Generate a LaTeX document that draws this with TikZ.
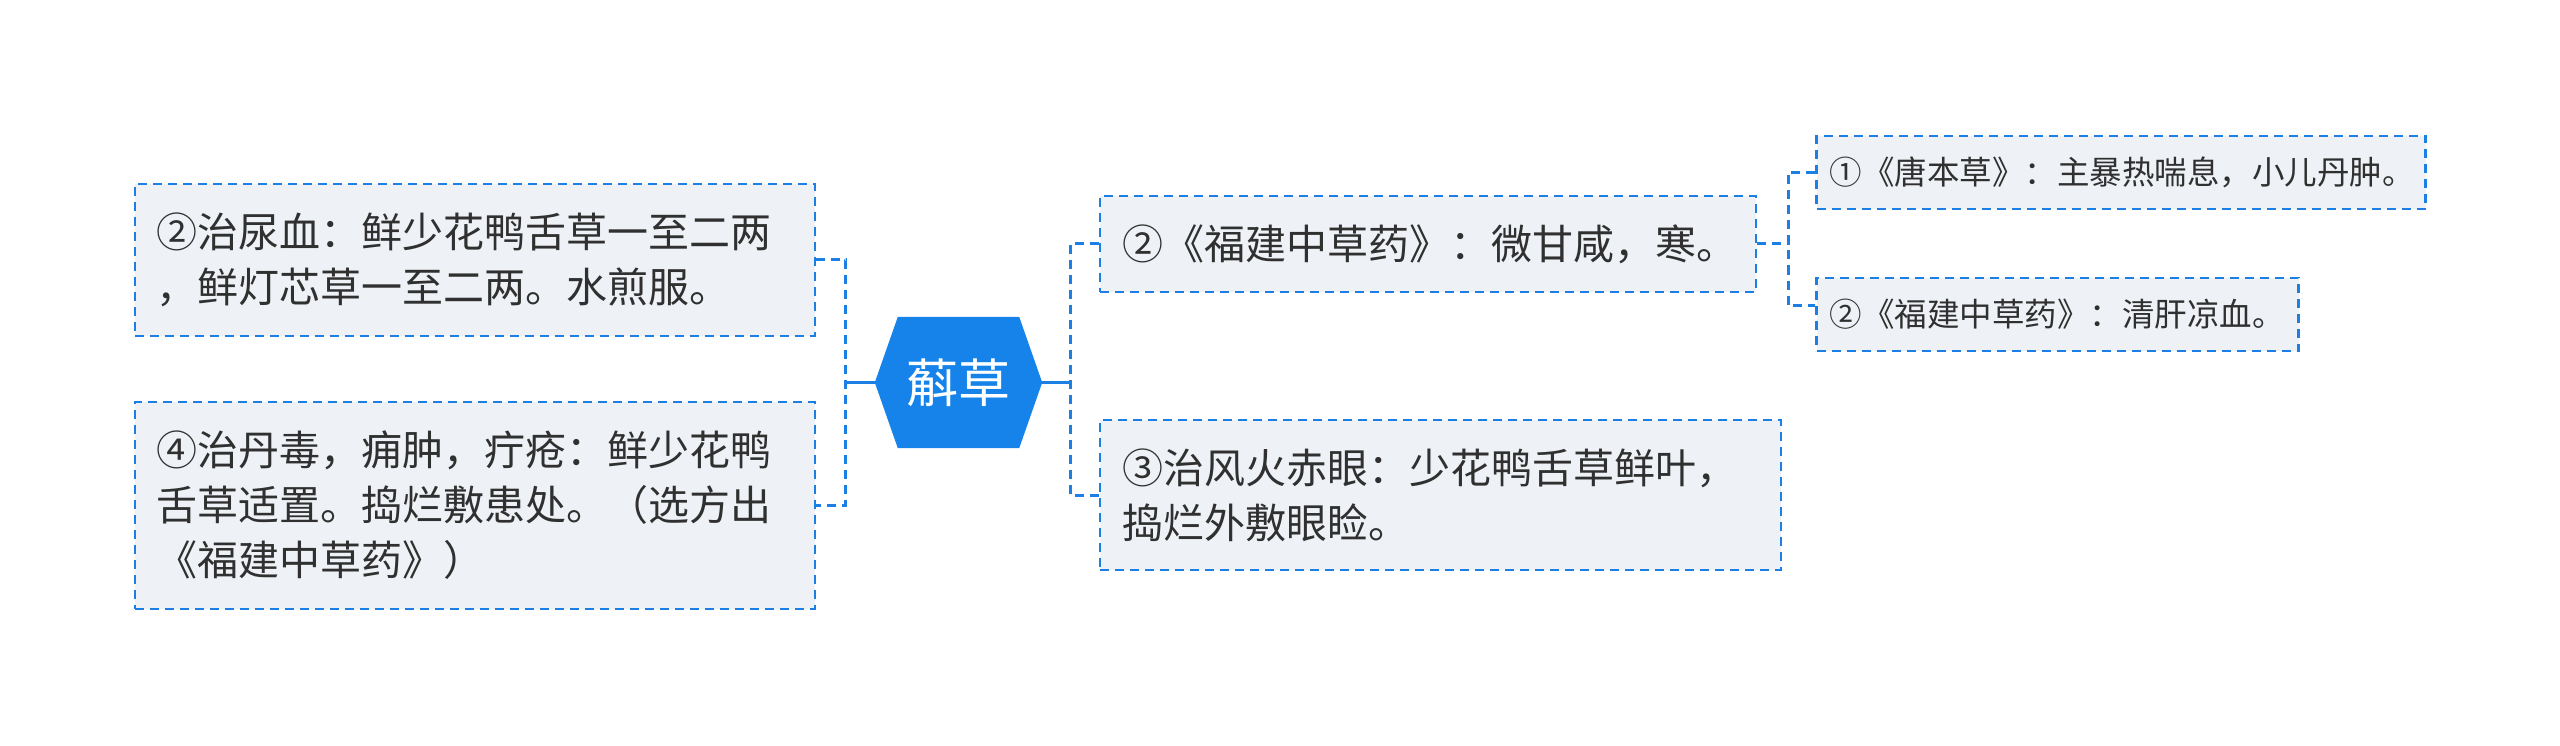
\documentclass[tikz,border=0pt]{standalone}
\usepackage{fontspec}
\setmainfont{Noto Sans CJK SC}
\usetikzlibrary{positioning, calc, backgrounds}
\definecolor{mapblue}{HTML}{1B7FE3}
\definecolor{hubblue}{HTML}{1583EA}
\definecolor{leaffill}{HTML}{EEF1F5}
\definecolor{textdark}{HTML}{303030}

\begin{document}
\begin{tikzpicture}[
    leaf/.style={draw=mapblue, line width=2.2pt, dash pattern=on 9pt off 6pt,
      fill=leaffill, text=textdark, align=left, inner xsep=22pt, inner ysep=0pt,
      font=\fontsize{41}{55}\selectfont},
    twig/.style={leaf, inner xsep=13pt, font=\fontsize{32.5}{40}\selectfont},
    link/.style={draw=mapblue, line width=3pt, dash pattern=on 9pt off 6pt},
    trunk/.style={draw=mapblue, line width=3pt}
  ]
  \useasboundingbox (0pt,0pt) rectangle (2560pt,-746pt);

  \node[minimum width=167pt, minimum height=131pt, inner sep=0pt,
        text=white, font=\fontsize{52}{60}\selectfont] (hub) at (958.5pt,-382.5pt) {蔛草};
  \begin{scope}[on background layer]
    \fill[hubblue] (hub.west) -- ([xshift=23pt]hub.north west) -- ([xshift=-23pt]hub.north east)
      -- (hub.east) -- ([xshift=-23pt]hub.south east) -- ([xshift=23pt]hub.south west) -- cycle;
  \end{scope}

  \node[leaf, text width=636pt, minimum height=152pt,
        left=59pt of hub, yshift=122.5pt] (urine) {
    ②治尿血：鲜少花鸭舌草一至二两\\
    ，鲜灯芯草一至二两。水煎服。
  };
  \node[leaf, text width=636pt, minimum height=207pt,
        left=59pt of hub, yshift=-123pt] (toxin) {
    ④治丹毒，痈肿，疔疮：鲜少花鸭\\
    舌草适置。捣烂敷患处。（选方出\\
    《福建中草药》）
  };
  \node[leaf, text width=612pt, minimum height=96pt,
        right=57pt of hub, yshift=138.5pt] (nature) {
    ②《福建中草药》：微甘咸，寒。
  };
  \node[leaf, text width=637pt, minimum height=150pt,
        right=57pt of hub, yshift=-112.5pt] (eyes) {
    ③治风火赤眼：少花鸭舌草鲜叶，\\
    捣烂外敷眼睑。
  };
  \node[twig, text width=583pt, minimum height=73pt,
        right=58pt of nature, yshift=71.5pt] (tangben) {
    ①《唐本草》：主暴热喘息，小儿丹肿。
  };
  \node[twig, text width=456pt, minimum height=73pt,
        right=58pt of nature, yshift=-70.5pt] (fujian) {
    ②《福建中草药》：清肝凉血。
  };

  \coordinate (lj) at ([xshift=-29pt]hub.west);
  \coordinate (rj) at ([xshift=28pt]hub.east);
  \coordinate (nj) at ([xshift=31pt]nature.east);
  \draw[trunk] (hub.west) -- (lj);
  \draw[link] (urine.east) -| (lj) |- (toxin.east);
  \draw[trunk] (hub.east) -- (rj);
  \draw[link] (nature.west) -| (rj) |- (eyes.west);
  \draw[link] (nature.east) -- (nj);
  \draw[link] (tangben.west) -| (nj) |- ([yshift=9pt]fujian.west);
\end{tikzpicture}
\end{document}
